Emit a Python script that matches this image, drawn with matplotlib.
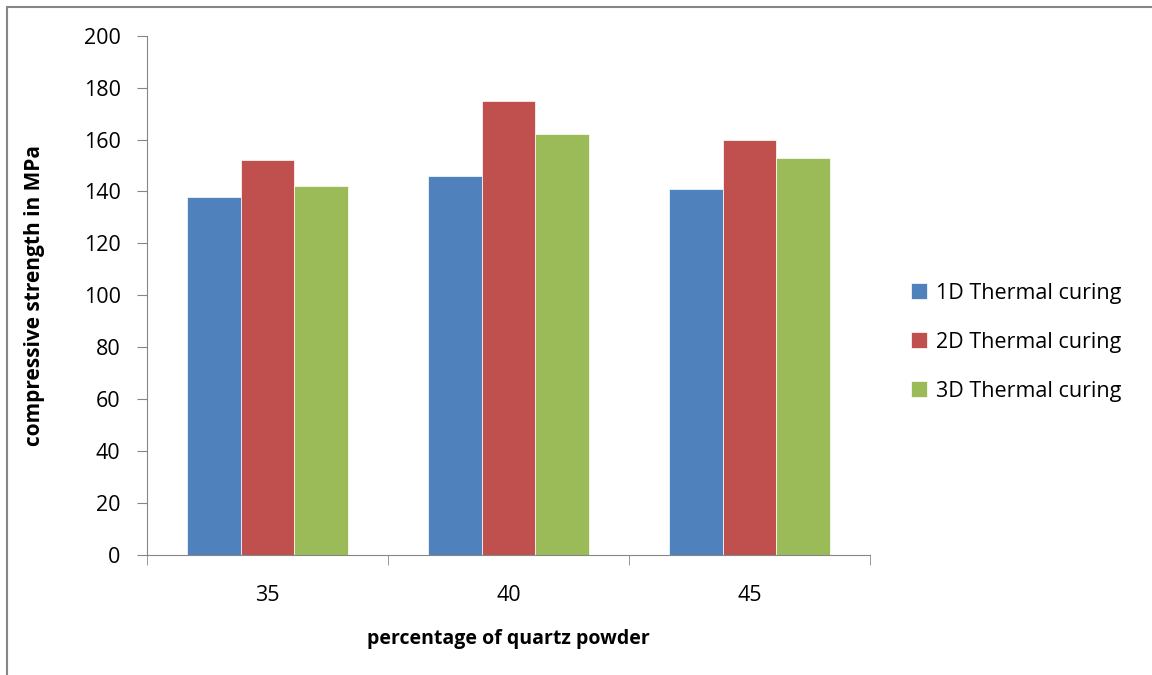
import numpy as np
import matplotlib.pyplot as plt
from matplotlib.patches import Rectangle

plt.rc('font', family=['Open Sans', 'DejaVu Sans'])

#===================
# Data
#===================
categories = ['35', '40', '45']
series_names = ['1D Thermal curing', '2D Thermal curing', '3D Thermal curing']
d1 = [138, 146, 141]
d2 = [152, 175, 160]
d3 = [142, 162, 153]
colors = ['#4F81BD', '#C0504D', '#9BBB59']
#===================

fig = plt.figure(figsize=(11.52, 6.75), dpi=100)
ax = fig.add_axes([0.1276, 0.178, 0.6274, 0.769])

x = np.arange(len(categories))
w = 0.222
for i, (vals, name) in enumerate(zip([d1, d2, d3], series_names)):
    ax.bar(x + (i - 1) * w, vals, w, color=colors[i], label=name,
           edgecolor='white', linewidth=0.5)

ax.set_xlim(-0.5, 2.5)
ax.set_ylim(0, 200)
ax.set_yticks(np.arange(0, 201, 20))
ax.set_xticks(x)
ax.set_xticklabels(categories)
ax.set_xticks([-0.5, 0.5, 1.5, 2.5], minor=True)
ax.tick_params(axis='x', which='major', length=0, pad=22, labelsize=15.5)
ax.tick_params(axis='x', which='minor', length=7, color='#868686')
ax.tick_params(axis='y', length=7, color='#868686', labelsize=15.5, pad=12)

for s in ['top', 'right']:
    ax.spines[s].set_visible(False)
for s in ['left', 'bottom']:
    ax.spines[s].set_color('#868686')

ax.set_ylabel('compressive strength in MPa', fontsize=15, fontweight='bold', labelpad=28)
ax.set_xlabel('percentage of quartz powder', fontsize=14, fontweight='bold', labelpad=16)

ax.legend(loc='center left', bbox_to_anchor=(1.03, 0.41), frameon=False,
          fontsize=15.5, handlelength=0.75, handleheight=0.75, handletextpad=0.4,
          labelspacing=1.3)

fig.patches.append(Rectangle((0.006, -0.01), 1.0, 1.0, transform=fig.transFigure,
                             fill=False, edgecolor='#868686', linewidth=1.5))

plt.savefig('out.png', dpi=100)
